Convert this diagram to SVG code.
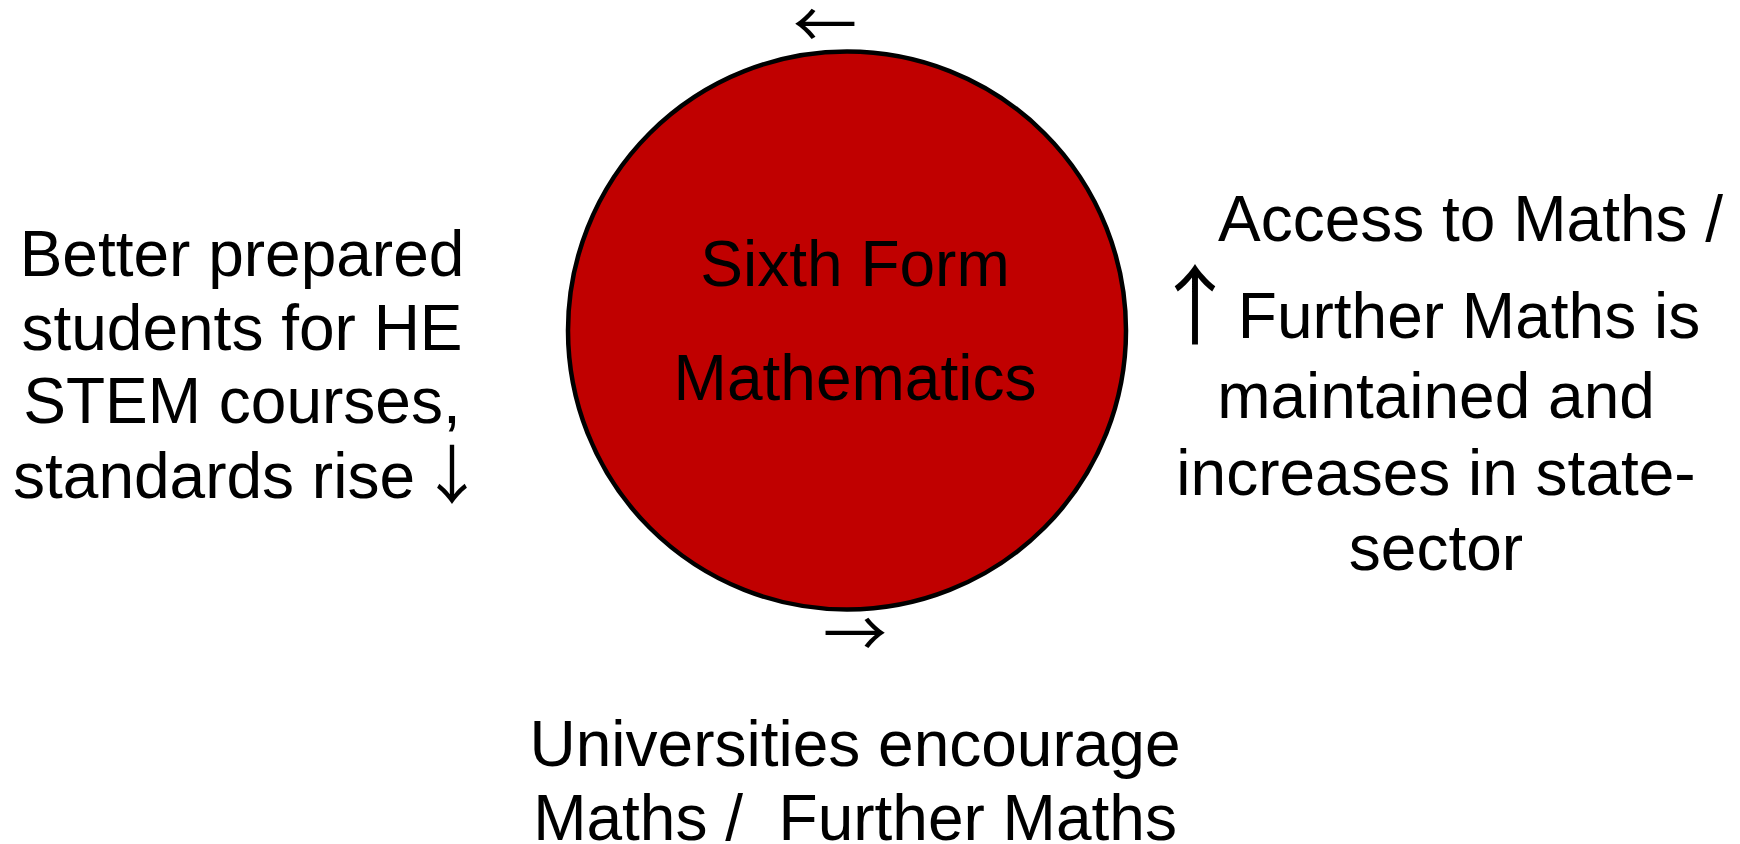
<svg xmlns="http://www.w3.org/2000/svg" width="1740" height="844" viewBox="0 0 1740 844">
<style>
.t{font-family:"Liberation Sans",Arial,sans-serif;font-size:64px;fill:#000}
.c{text-anchor:middle}
.a{font-family:"Noto Sans CJK SC","DejaVu Sans",sans-serif}
</style>
<rect width="1740" height="844" fill="#fff"/>
<g id="node-sixth-form">
<circle cx="847" cy="330.5" r="279" fill="#C00000" stroke="#000" stroke-width="4.5"/>
<text class="t c" x="855" y="286">Sixth Form</text>
<text class="t c" x="855" y="400">Mathematics</text>
</g>
<g id="node-better-prepared">
<text class="t c" x="242" y="276">Better prepared</text>
<text class="t c" x="242" y="350">students for HE</text>
<text class="t c" x="242" y="423">STEM courses,</text>
<text class="t" x="13" y="498">standards rise <tspan class="a" x="420">↓</tspan></text>
</g>
<g id="node-access">
<text class="t" x="1218" y="241">Access to Maths /</text>
<text class="t" x="1151.5" y="338"><tspan class="a" font-size="87">↑</tspan><tspan x="1220"> Further Maths is</tspan></text>
<text class="t c" x="1436" y="418">maintained and</text>
<text class="t c" x="1436" y="495">increases in state-</text>
<text class="t c" x="1436" y="570">sector</text>
</g>
<g id="node-universities">
<text class="t c" x="855" y="766">Universities encourage</text>
<text class="t c" x="855" y="840" xml:space="preserve">Maths /  Further Maths</text>
</g>
<g id="connectors">
<text class="t c a" x="825" y="48">←</text>
<text class="t c a" x="855" y="657">→</text>
</g>
</svg>
